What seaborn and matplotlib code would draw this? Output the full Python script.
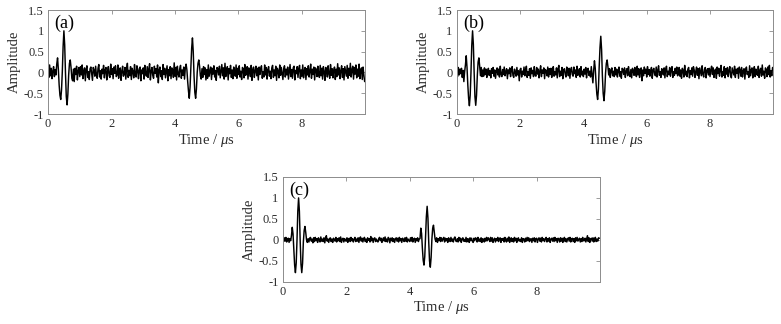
#!/usr/bin/env python3
"""Three-panel ultrasonic A-scan comparison (raw / filtered / denoised)."""

import matplotlib

matplotlib.use("Agg")
import matplotlib.pyplot as plt
import numpy as np
import seaborn as sns

# sampling interval of the traces, in microseconds
SAMPLE_INTERVAL_US = 0.025

# amplitude traces in hundredths, 20 samples (0.5 us) per row
AMP_A = [
    5, -12, 18, -8, 10, -15, 3, 14, -10, 7, -6, 20, 35, 8, -30, -55, -65, -42, 2, 62,
    100, 66, -2, -58, -78, -52, -6, 22, 30, 12, -14, -20, 8, -22, 10, -5, 15, -18, 4, 12,
    -10, 14, -6, 18, -15, 3, 11, -20, 7, 16, -12, 2, -17, 9, 13, -4, -19, 12, 5, -9,
    15, -7, -14, 10, 19, -11, 4, -16, 8, -3, 17, -13, 6, 12, -18, 1, 14, -8, -12, 20,
    -5, 9, -15, 13, -2, 16, -10, -6, 18, -14, 7, 11, -19, 3, 15, -9, -4, 12, -16, 8,
    22, -12, 5, -8, 14, -17, 10, 2, -13, 19, -6, -11, 16, 4, -15, 9, 13, -20, 6, -3,
    11, -16, 17, -4, -9, 14, -12, 8, 21, -18, 3, 12, -7, -14, 15, -2, 9, -11, 18, -25,
    6, 13, -10, 4, -17, 19, -5, 10, -13, 2, 16, -20, 7, -8, 14, -15, 11, 5, -12, 23,
    -9, 12, -18, 15, -3, -11, 9, 17, -14, 6, -7, 13, -16, 10, 20, 6, -22, -45, -62, -35,
    15, 58, 83, 50, -8, -48, -62, -40, 0, 22, 30, 15, -8, -16, 9, -12, 14, -5, 11, -18,
    7, -14, 18, -9, 3, 13, -17, 10, -4, 16, -11, 5, -19, 12, 8, -6, 15, -13, 2, 19,
    -8, 11, -16, 22, -10, 4, 14, -18, 9, -3, 17, -12, 6, -15, 13, 1, -9, 18, -14, 10,
    -5, 16, -11, 3, -17, 12, 8, -13, 19, -7, -2, 14, -16, 11, 5, -10, 17, -19, 7, 13,
    -12, 4, 15, -8, 10, -18, 13, -5, 9, 16, -14, 2, -11, 18, -6, 12, -16, 7, 14, -9,
    3, -15, 11, 17, -12, 6, -8, 15, -19, 10, 4, -13, 18, -7, 12, -2, -17, 9, 16, -11,
    8, -6, 13, -16, 2, 19, -10, 7, -14, 11, 15, -18, 5, -3, 14, -12, 10, 17, -15, 6,
    -9, 18, -13, 4, 12, -17, 9, -6, 16, -11, 3, 20, -14, 8, -5, 13, -18, 11, 6, -10,
    15, -4, -12, 17, -8, 10, -16, 14, 2, -19, 12, 7, -11, 16, -3, -14, 19, -7, 9, -13,
    5, 13, -17, 8, -10, 21, -6, 11, -15, 4, 16, -12, 9, -18, 14, 3, -9, 17, -14, 10,
    -7, 22, -11, 6, 15, -16, 12, -4, 18, -13, 8, -9, 20, -15, 5, 11, -17, 13, -6, -22,
]

AMP_B = [
    4, -10, 12, -6, 8, -3, 10, -12, 5, -22, 2, 18, 40, 12, -30, -62, -80, -55, 0, 65,
    100, 68, 0, -58, -79, -55, -8, 25, 35, 15, -8, 12, -10, 6, -9, 11, -5, 8, -12, 3,
    10, -7, 4, -13, 9, -2, 12, -9, 6, -14, 3, 11, -6, 8, -11, 15, -4, -10, 7, -5,
    13, -8, 2, 9, -15, 6, -3, 11, -10, 5, 14, -7, -12, 8, 1, -9, 12, -6, 4, -20,
    7, 10, -11, 3, -5, 13, -8, 6, 15, -12, 2, -7, 9, -14, 11, -3, 5, -10, 14, -6,
    -9, 12, -4, 8, -13, 3, 16, -10, 6, -2, 11, -15, 7, 4, -8, 13, -11, 9, -5, 10,
    -12, 5, 14, -9, 2, -6, 11, -13, 8, 17, -10, 3, -7, 12, -15, 6, 9, -4, -11, 13,
    4, -8, 10, -14, 7, 12, -5, -9, 13, -3, 6, -12, 15, -7, 2, 9, -11, 14, -6, 3,
    -10, 8, -4, 12, -13, 6, 10, -7, 3, -11, 14, -5, -25, 5, 28, 10, -25, -52, -65, -40,
    15, 60, 87, 55, -8, -50, -68, -45, -2, 22, 30, 14, -6, 9, -12, 5, 11, -8, 3, -10,
    12, -6, 8, -11, 4, 13, -9, 2, -14, 10, 6, -5, 11, -12, 3, 9, -8, 14, -4, -10,
    7, -13, 10, 5, -7, 12, -3, -10, 15, -6, 9, -12, 4, 11, -20, 6, -8, 13, -2, 8,
    -11, 14, -5, 7, -9, 3, 12, -14, 6, 10, -4, -8, 13, -11, 5, 16, -7, 2, -12, 9,
    4, -6, 11, -13, 8, 15, -10, 3, -5, 12, -9, 7, 14, -12, 2, -7, 10, -3, 13, -8,
    -4, 12, -9, 6, -14, 10, 5, -11, 17, -6, 3, -10, 8, 12, -13, 4, -5, 11, -9, 14,
    6, -12, 3, 13, -7, 9, -15, 11, 2, -8, 16, -4, -11, 7, 12, -13, 5, 9, -6, 10,
    -10, 7, 15, -5, 11, -12, 4, 8, -14, 13, -3, 10, -9, 6, 17, -11, 2, -7, 14, -13,
    9, -4, 12, -10, 5, 14, -8, -13, 11, 3, -6, 15, -12, 8, -2, 10, -14, 13, 6, -9,
    12, -11, 4, 9, -16, 7, 13, -5, 2, -12, 16, -8, 6, 11, -13, 3, 14, -10, 8, -4,
    -7, 15, -12, 5, 10, -9, 18, -6, 3, -14, 11, 7, -10, 13, -5, 17, -11, 4, -8, 12,
]

AMP_C = [
    2, -4, 5, -3, 6, -5, 1, 4, -6, 3, -2, 10, 30, 14, -22, -60, -78, -55, 0, 68,
    100, 68, -2, -58, -78, -56, -5, 22, 32, 18, 0, -6, 3, -5, 4, 6, -3, 2, -7, 5,
    -4, 6, -2, 3, -6, 5, 1, -5, 7, -3, 2, -4, 5, -7, 4, 10, -3, 2, -6, 3,
    5, -4, 2, -6, 4, 1, -3, 6, -5, 3, -2, 5, -4, 7, -6, 2, 4, -5, 3, -2,
    -3, 5, -6, 2, 4, -4, 6, -2, 3, -5, 1, 6, -4, 2, -3, 5, -6, 4, 7, -3,
    4, -5, 3, 6, -4, 2, -6, 5, -1, 3, -5, 8, -2, 4, -6, 3, 5, -4, 2, -3,
    -5, 3, 6, -2, 4, -6, 1, 5, -3, 7, -4, 2, -5, 6, 3, -7, 4, -2, 5, -4,
    3, -6, 2, 5, -3, 4, -5, 6, -2, 3, -6, 4, 1, -4, 5, -3, 6, -5, 2, -1,
    -4, 5, -3, 6, -5, 2, 4, -6, 3, -2, 5, -4, 2, 3, 28, 15, -20, -48, -60, -40,
    10, 55, 80, 52, -5, -50, -65, -42, 2, 28, 35, 18, 2, -4, 5, -6, 3, -2, 6, -4,
    5, -3, 2, 6, -5, 4, -2, 3, -6, 5, 1, -4, 6, -3, 2, -5, 4, 7, -2, -4,
    3, -5, 6, -2, 4, -6, 2, 5, -3, 1, -4, 6, -5, 3, 2, -6, 5, -2, 4, -3,
    -6, 4, -2, 5, 3, -5, 6, -3, 2, -4, 5, -6, 3, 1, -5, 4, -3, 6, -2, 5,
    2, -4, 6, -3, 5, -6, 1, 4, -5, 3, -2, 6, -4, 2, 5, -6, 3, -1, 4, -5,
    6, -2, -5, 4, -3, 7, -6, 2, 5, -4, 3, -5, 6, -2, 4, -6, 2, 5, -3, 1,
    -4, 5, -6, 3, 2, -5, 4, -3, 6, -2, 5, -4, 1, 3, -6, 4, -2, 5, -5, 3,
    4, -6, 2, 5, -3, 4, -5, 6, -2, 3, -4, 2, 6, -5, 3, -3, 5, -6, 2, 4,
    -3, 5, -4, 6, -2, 3, -6, 4, 2, -5, 5, -3, 4, -6, 2, 6, -4, 3, -5, 2,
    5, -3, 6, -5, 2, 4, -4, 3, -6, 5, -2, 6, -3, 1, 4, -5, 3, -4, 6, -2,
    -2, 4, -5, 3, 10, -4, 5, -6, 2, 4, -3, 5, -5, 3, 6, -4, 2, -3, 5, 4,
]

PANEL_LABELS = ["(a)", "(b)", "(c)"]
X_TICKS = [0, 2, 4, 6, 8]
Y_TICKS = [-1, -0.5, 0, 0.5, 1, 1.5]
Y_TICK_LABELS = ["-1", "-0.5", "0", "0.5", "1", "1.5"]

TEXT = "#2b2b2b"
SPINE = "#8c8c8c"


def draw_trace(ax, amp, label):
    values = np.asarray(amp, dtype=float) / 100.0
    times = np.arange(len(values)) * SAMPLE_INTERVAL_US
    sns.lineplot(x=times, y=values, ax=ax, color="black", linewidth=1.05,
                 estimator=None, sort=False)
    ax.set_xlim(0, 9.99)
    ax.set_ylim(-1, 1.5)
    ax.set_xticks(X_TICKS)
    ax.set_yticks(Y_TICKS)
    ax.set_yticklabels(Y_TICK_LABELS)
    ax.set_xlabel("Time / $\\mu$s", fontsize=10.5, color=TEXT, labelpad=1)
    ax.set_ylabel("Amplitude", fontsize=10.5, color=TEXT, labelpad=2)
    ax.tick_params(direction="in", length=3, width=0.6, colors=TEXT,
                   labelsize=9, pad=3, top=True, right=True)
    ax.tick_params(which="both", color=SPINE)
    for spine in ax.spines.values():
        spine.set_color(SPINE)
        spine.set_linewidth(0.7)
        spine.set_visible(True)
    ax.text(0.2, 1.18, label, fontsize=13, color="black", ha="left", va="center")


def main():
    sns.set_theme(style="white")
    plt.rcParams.update({
        "font.family": ["Liberation Serif", "DejaVu Serif"],
        "mathtext.fontset": "custom",
        "mathtext.it": "Liberation Serif:italic",
        "mathtext.rm": "Liberation Serif",
    })
    fig = plt.figure(figsize=(7.81, 3.24), dpi=100, facecolor="white")
    ax_a = fig.add_axes([0.0615, 0.648, 0.406, 0.321])
    ax_b = fig.add_axes([0.5848, 0.648, 0.405, 0.321])
    ax_c = fig.add_axes([0.362, 0.130, 0.406, 0.324])
    for ax, amp, label in zip([ax_a, ax_b, ax_c], [AMP_A, AMP_B, AMP_C], PANEL_LABELS):
        draw_trace(ax, amp, label)
    fig.savefig("out.png", dpi=100, facecolor="white")
    plt.close(fig)


if __name__ == "__main__":
    main()
